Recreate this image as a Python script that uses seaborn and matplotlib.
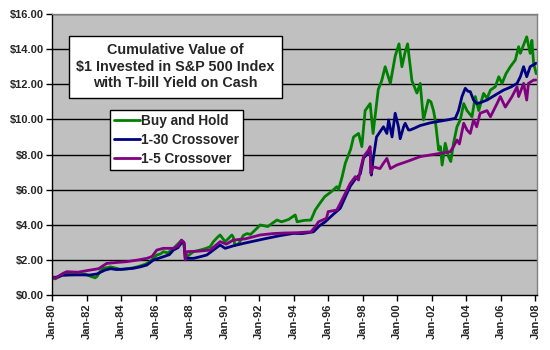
import matplotlib
matplotlib.use("Agg")
import matplotlib.pyplot as plt
from matplotlib.lines import Line2D
import seaborn as sns
import pandas as pd

# Buy and Hold (decimal year, $ value)
bh_years = [1980.0, 1980.17, 1980.45, 1980.66, 1980.9, 1981.2, 1981.6, 1981.9, 1982.2, 1982.5,
            1982.6, 1982.8, 1982.97, 1983.4, 1983.75, 1984.0, 1984.4, 1984.7, 1985.0, 1985.4,
            1985.68, 1986.07, 1986.3, 1986.45, 1986.7, 1987.0, 1987.23, 1987.5, 1987.62, 1987.75,
            1987.9, 1988.2, 1988.58, 1988.9, 1989.16, 1989.35, 1989.6, 1989.74, 1990.03, 1990.2,
            1990.42, 1990.5, 1990.6, 1990.8, 1991.09, 1991.3, 1991.5, 1991.87, 1992.06, 1992.5,
            1993.03, 1993.3, 1993.7, 1994.09, 1994.2, 1994.6, 1995.0, 1995.25, 1995.5, 1995.8,
            1996.2, 1996.5, 1996.6, 1996.8, 1996.99, 1997.3, 1997.47, 1997.76, 1997.95, 1998.14,
            1998.43, 1998.6, 1998.9, 1999.1, 1999.3, 1999.6, 1999.88, 2000.1, 2000.27, 2000.45,
            2000.6, 2000.85, 2001.14, 2001.33, 2001.52, 2001.8, 2001.95, 2002.1, 2002.2, 2002.4,
            2002.5, 2002.6, 2002.78, 2002.97, 2003.1, 2003.26, 2003.46, 2003.65, 2003.85, 2004.04,
            2004.33, 2004.52, 2004.72, 2005.0, 2005.2, 2005.4, 2005.68, 2005.88, 2006.07, 2006.3,
            2006.55, 2006.84, 2007.03, 2007.13, 2007.5, 2007.7, 2007.8, 2007.9, 2008.05]
bh_values = [1.0, 0.92, 1.05, 1.24, 1.28, 1.22, 1.15, 1.2, 1.08, 0.98,
             1.05, 1.35, 1.52, 1.6, 1.52, 1.45, 1.5, 1.55, 1.62, 1.75,
             1.9, 2.28, 2.35, 2.47, 2.4, 2.6, 2.85, 3.1, 3.0, 2.1,
             2.25, 2.47, 2.56, 2.65, 2.75, 3.04, 3.3, 3.42, 3.04, 3.2,
             3.42, 3.3, 2.85, 2.9, 3.4, 3.5, 3.45, 3.8, 3.99, 3.9,
             4.27, 4.17, 4.3, 4.56, 4.17, 4.25, 4.27, 4.84, 5.2, 5.6,
             5.9, 6.17, 6.0, 6.7, 7.5, 8.3, 9.0, 9.2, 8.45, 10.5,
             10.9, 9.2, 11.7, 12.2, 13.0, 12.05, 13.6, 14.3, 13.0, 13.8,
             14.3, 12.2, 11.5, 12.05, 9.97, 11.1, 11.0, 10.5, 9.97, 8.26,
             8.45, 7.4, 8.64, 7.88, 7.6, 8.64, 9.58, 9.97, 10.9, 10.5,
             10.15, 11.3, 10.5, 11.48, 11.2, 11.67, 11.86, 12.43, 12.05, 12.6,
             13.0, 13.38, 14.14, 13.76, 14.7, 13.76, 14.5, 13.2, 12.6]

# 1-30 Crossover
c30_years = [1980.0, 1980.27, 1980.6, 1981.04, 1981.6, 1982.2, 1982.6, 1983.07, 1983.4, 1983.75,
             1984.2, 1984.7, 1985.1, 1985.5, 1985.87, 1986.2, 1986.45, 1986.8, 1987.03, 1987.3,
             1987.55, 1987.65, 1987.72, 1988.2, 1988.58, 1988.97, 1989.4, 1989.74, 1990.03, 1990.5,
             1991.09, 1991.6, 1992.45, 1993.2, 1993.99, 1994.5, 1995.15, 1995.5, 1995.83, 1996.3,
             1996.7, 1997.0, 1997.28, 1997.57, 1997.86, 1998.05, 1998.43, 1998.5, 1998.6, 1998.8,
             1999.2, 1999.4, 1999.5, 1999.7, 1999.88, 2000.07, 2000.17, 2000.37, 2000.46, 2000.65,
             2000.75, 2001.0, 2001.33, 2001.9, 2002.3, 2002.9, 2003.36, 2003.55, 2003.75, 2003.94,
             2004.1, 2004.23, 2004.42, 2004.6, 2004.8, 2005.2, 2005.7, 2006.16, 2006.6, 2006.94,
             2007.13, 2007.32, 2007.5, 2007.7, 2008.05]
c30_values = [1.0, 1.02, 1.12, 1.14, 1.15, 1.14, 1.2, 1.42, 1.5, 1.45,
              1.48, 1.52, 1.6, 1.71, 1.99, 2.1, 2.18, 2.3, 2.56, 2.7,
              3.04, 2.95, 2.09, 2.09, 2.18, 2.28, 2.6, 2.85, 2.66, 2.8,
              2.94, 3.05, 3.23, 3.38, 3.51, 3.5, 3.6, 3.95, 4.17, 4.6,
              4.94, 5.6, 6.2, 6.6, 6.9, 7.8, 8.2, 6.83, 7.69, 9.0,
              9.58, 9.2, 9.97, 9.0, 10.35, 9.58, 8.9, 9.58, 9.78, 9.4,
              9.4, 9.5, 9.65, 9.8, 9.87, 9.97, 10.06, 10.5, 11.3, 11.77,
              11.6, 11.58, 11.1, 10.9, 10.95, 11.1, 11.4, 11.67, 11.85, 12.05,
              12.43, 13.0, 12.43, 13.0, 13.2]

# 1-5 Crossover
c5_years = [1980.0, 1980.2, 1980.5, 1980.85, 1981.5, 1982.2, 1982.7, 1983.17, 1983.7, 1984.33,
            1985.0, 1985.5, 1985.8, 1986.07, 1986.45, 1987.03, 1987.3, 1987.5, 1987.65, 1987.72,
            1987.8, 1988.5, 1989.16, 1989.74, 1990.1, 1990.5, 1991.2, 1992.06, 1992.8, 1993.4,
            1994.2, 1995.0, 1995.25, 1995.44, 1995.9, 1996.0, 1996.5, 1996.7, 1996.99, 1997.28,
            1997.57, 1997.76, 1997.86, 1998.05, 1998.34, 1998.43, 1998.47, 1998.6, 1999.0, 1999.2,
            1999.4, 1999.6, 1999.97, 2000.56, 2001.33, 2001.9, 2002.5, 2003.07, 2003.26, 2003.46,
            2003.6, 2003.85, 2004.04, 2004.23, 2004.42, 2004.6, 2004.8, 2005.2, 2005.4, 2005.78,
            2005.97, 2006.26, 2006.65, 2006.94, 2007.03, 2007.32, 2007.5, 2007.6, 2007.9, 2008.05]
c5_values = [1.05, 0.95, 1.15, 1.33, 1.3, 1.42, 1.5, 1.8, 1.85, 1.9,
             2.0, 2.09, 2.2, 2.56, 2.66, 2.66, 2.8, 3.13, 3.0, 2.0,
             2.47, 2.5, 2.56, 3.04, 2.9, 3.13, 3.2, 3.42, 3.5, 3.53,
             3.55, 3.6, 3.89, 4.17, 4.37, 4.75, 4.84, 5.22, 5.79, 6.36,
             6.74, 6.55, 7.12, 7.88, 8.26, 8.45, 6.93, 7.3, 7.2, 7.5,
             7.78, 7.2, 7.4, 7.6, 7.88, 7.97, 8.07, 8.16, 8.45, 8.83,
             8.6, 9.78, 9.4, 9.2, 9.97, 9.58, 10.35, 10.5, 10.15, 10.9,
             11.3, 10.7, 11.3, 11.86, 11.3, 12.05, 11.1, 12.05, 12.24, 12.24]

series_names = ["Buy and Hold", "1-30 Crossover", "1-5 Crossover"]
series_colors = ["#008000", "#000080", "#800080"]
tick_years = list(range(1980, 2010, 2))
tick_labels = ["Jan-%02d" % (y % 100) for y in tick_years]
y_ticks = list(range(0, 18, 2))

df = pd.concat([
    pd.DataFrame({"year": bh_years, "value": bh_values, "series": series_names[0]}),
    pd.DataFrame({"year": c30_years, "value": c30_values, "series": series_names[1]}),
    pd.DataFrame({"year": c5_years, "value": c5_values, "series": series_names[2]}),
])

sns.set_style("white")
plt.rcParams["font.family"] = ["Liberation Sans", "DejaVu Sans"]

fig = plt.figure(figsize=(5.5, 3.5), dpi=100)
ax = fig.add_axes([0.0945, 0.157, 0.882, 0.803])
ax.set_facecolor("#C0C0C0")

sns.lineplot(data=df, x="year", y="value", hue="series", hue_order=series_names,
             palette=series_colors, linewidth=2.0, legend=False, ax=ax, sort=False,
             estimator=None)

ax.set_xlim(1980, 2008.1)
ax.set_ylim(0, 16)
ax.set_yticks(y_ticks)
ax.set_yticklabels(["$%.2f" % v for v in y_ticks], fontsize=8, fontweight="bold")
ax.set_xticks(tick_years)
ax.set_xticklabels(tick_labels, rotation=90, fontsize=8, fontweight="bold")
ax.set_xlabel("")
ax.set_ylabel("")
for v in y_ticks[1:]:
    ax.axhline(v, color="black", linewidth=1.0, zorder=0.5)
ax.tick_params(axis="both", direction="out", length=4, width=1, color="black", pad=2,
               bottom=True, left=True)
for side in ["top", "right"]:
    ax.spines[side].set_color("#808080")
    ax.spines[side].set_linewidth(1.0)
for side in ["left", "bottom"]:
    ax.spines[side].set_color("black")
    ax.spines[side].set_linewidth(1.0)

ax.text(0.254, 0.813, "Cumulative Value of\n$1 Invested in S&P 500 Index\nwith T-bill Yield on Cash",
        transform=ax.transAxes, ha="center", va="center", fontsize=10.4, fontweight="bold",
        linespacing=1.25,
        bbox=dict(boxstyle="square,pad=0.5", facecolor="white", edgecolor="black", linewidth=1))

handles = [Line2D([0], [0], color=c, linewidth=2.0) for c in series_colors]
leg = ax.legend(handles, series_names, loc="upper left", bbox_to_anchor=(0.1196, 0.658),
                frameon=True, fancybox=False, handlelength=1.9, handletextpad=0.1,
                borderpad=0.3, labelspacing=0.35, borderaxespad=0,
                prop={"size": 9.8, "weight": "bold"})
leg.get_frame().set_edgecolor("black")
leg.get_frame().set_linewidth(1)
leg.get_frame().set_facecolor("white")
leg.get_frame().set_alpha(1)

fig.savefig("out.png", dpi=100)
